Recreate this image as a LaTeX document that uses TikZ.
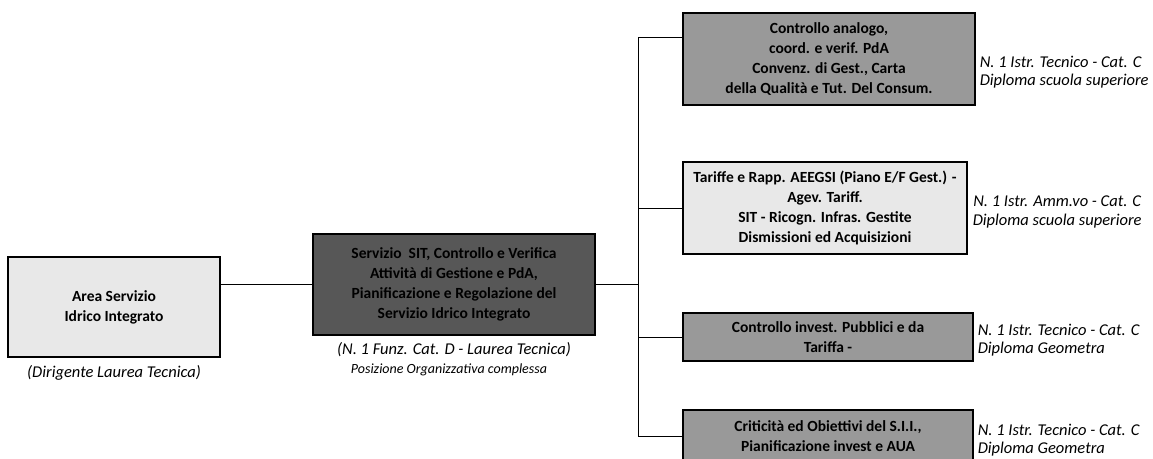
\documentclass[tikz,border=0pt]{standalone}
\usepackage{fontspec}
\setmainfont{Carlito}
\usepackage{tikz}
\usetikzlibrary{positioning,calc}

\begin{document}
\begin{tikzpicture}[x=1pt, y=-1pt,
    box/.style={draw=black, line width=1.1pt, inner sep=0pt, align=center, font=\bfseries\fontsize{15.5}{20}\selectfont},
    light/.style={box, fill=gray!18},
    mid/.style={box, fill=gray!80},
    dark/.style={box, fill=black!66},
    lbl/.style={font=\itshape\fontsize{16.5}{18.5}\selectfont, align=left, inner sep=0pt},
    link/.style={draw=black, line width=0.8pt},
]
\useasboundingbox (0,0) rectangle (1153,458);
\clip (0,0) rectangle (1153,458);

% Area and service
\node[light, minimum width=212pt, minimum height=100pt] (area) at (114,307) {Area Servizio\\Idrico Integrato};
\node[dark, minimum width=282pt, minimum height=101pt] (servizio) at (454,284.5) {Servizio\ \ SIT, Controllo e Verifica\\Attività di Gestione e PdA,\\Pianificazione e Regolazione del\\Servizio Idrico Integrato};

% Offices
\node[mid, minimum width=292pt, minimum height=92pt] (analogo) at (829,59) {Controllo analogo,\\coord. e verif. PdA\\Convenz. di Gest., Carta\\della Qualità e Tut. Del Consum.};
\node[light, minimum width=284pt, minimum height=92pt] (tariffe) at (825,208) {Tariffe e Rapp. AEEGSI (Piano E/F Gest.) -\\Agev. Tariff.\\SIT - Ricogn. Infras. Gestite\\Dismissioni ed Acquisizioni};
\node[mid, minimum width=290pt, minimum height=48pt] (invest) at (828,337) {Controllo invest. Pubblici e da\\Tariffa -};
\node[mid, minimum width=290pt, minimum height=52pt] (criticita) at (828,436) {Criticità ed Obiettivi del S.I.I.,\\Pianificazione invest e AUA};

% Connections
\coordinate (bus) at (638,0);
\coordinate (analogoin) at ([yshift=-25pt]analogo.north west);
\draw[link] (servizio.west) -- (servizio.west -| area.east);
\draw[link] (servizio.east) -- (bus |- servizio.east);
\draw[link] (analogoin) -| (bus |- criticita.west) -- (criticita.west);
\foreach \dept in {tariffe, invest} {
    \draw[link] (\dept.west) -- (bus |- \dept.west);
}

% Staff labels
\node[lbl, below=8pt of area] (dirig) {(Dirigente Laurea Tecnica)};
\node[lbl, below=7pt of servizio] (funz) {(N. 1 Funz. Cat. D - Laurea Tecnica)};
\node[lbl, font=\itshape\fontsize{14}{16}\selectfont, below=6pt of funz, xshift=-5pt] (posiz) {Posizione Organizzativa complessa};
\node[lbl, right=4pt of analogo, yshift=-13pt] (analogolbl) {N. 1 Istr. Tecnico - Cat. C\\Diploma scuola superiore};
\node[lbl, align=center, right=5pt of tariffe, yshift=-4pt] (tariffelbl) {N. 1 Istr. Amm.vo - Cat. C\\Diploma scuola superiore};
\node[lbl, right=4pt of invest, yshift=-3pt] (investlbl) {N. 1 Istr. Tecnico - Cat. C\\Diploma Geometra};
\node[lbl, right=4pt of criticita, yshift=-4pt] (criticitalbl) {N. 1 Istr. Tecnico - Cat. C\\Diploma Geometra};

\end{tikzpicture}
\end{document}
